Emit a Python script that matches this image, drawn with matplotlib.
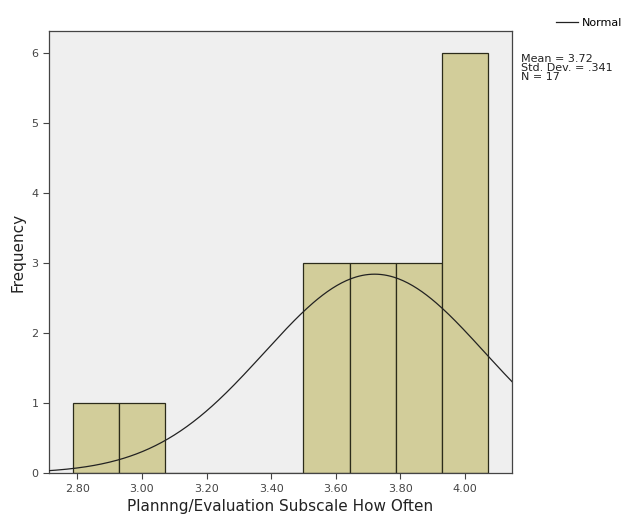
import numpy as np
import matplotlib
matplotlib.use("Agg")
import matplotlib.pyplot as plt

# histogram bins (SPSS style, width 1/7) and counts
bin_left = [2.7857, 2.9286, 3.0714, 3.2143, 3.3571, 3.5000, 3.6429, 3.7857, 3.9286]
counts = [1, 1, 0, 0, 0, 3, 3, 3, 6]
bin_width = 1.0 / 7
mean = 3.72
sd = 0.341
n = 17

fig = plt.figure(figsize=(6.29, 5.2), dpi=100)
ax = fig.add_axes([0.078, 0.090, 0.736, 0.850])
ax.set_facecolor("#efefef")

ax.bar(bin_left, counts, width=bin_width, align="edge",
       color="#d2cd9a", edgecolor="#2b2b1a", linewidth=0.9, zorder=2)

x = np.linspace(2.70, 4.16, 300)
y = n * bin_width * np.exp(-0.5 * ((x - mean) / sd) ** 2) / (sd * np.sqrt(2 * np.pi))
ax.plot(x, y, color="#222222", linewidth=0.9, zorder=3, label="Normal")

ax.set_xlim(2.713, 4.145)
ax.set_ylim(0, 6.31)
ax.set_xticks([2.8, 3.0, 3.2, 3.4, 3.6, 3.8, 4.0])
ax.set_xticklabels(["2.80", "3.00", "3.20", "3.40", "3.60", "3.80", "4.00"])
ax.set_yticks(range(7))
ax.tick_params(labelsize=8, colors="#444444", length=4, width=0.8)
for s in ax.spines.values():
    s.set_color("#444444")
    s.set_linewidth(0.9)

ax.set_xlabel("Plannng/Evaluation Subscale How Often", fontsize=11, color="#222222")
ax.set_ylabel("Frequency", fontsize=11, color="#222222")

fig.text(0.828, 0.897, "Mean = 3.72\nStd. Dev. = .341\nN = 17",
         fontsize=8, va="top", ha="left", linespacing=0.9, color="#222222")
fig.legend(loc="upper right", bbox_to_anchor=(1.005, 0.985), frameon=False,
           fontsize=8, handlelength=2.0, handletextpad=0.3)

fig.savefig("out.png", dpi=100)
